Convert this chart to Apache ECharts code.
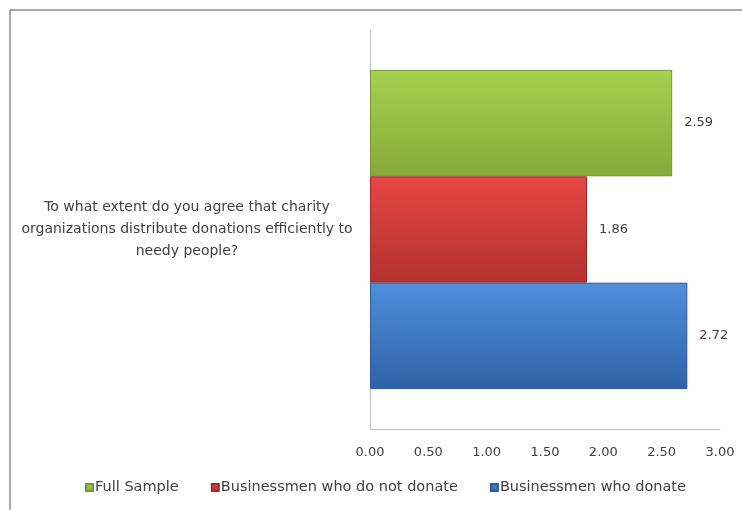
<!DOCTYPE html>
<html>
<head>
<meta charset="utf-8">
<script src="https://cdn.jsdelivr.net/npm/echarts@6/dist/echarts.min.js"></script>
<style>html,body{margin:0;padding:0;background:#fff;}#c{width:742px;height:510px;}</style>
</head>
<body>
<div id="c"></div>
<script>
const categories = ["To what extent do you agree that charity\norganizations distribute donations efficiently to\nneedy people?"];
const seriesNames = ["Full Sample", "Businessmen who do not donate", "Businessmen who donate"];
const fullSample = [2.59];
const notDonate = [1.86];
const donate = [2.72];
const xTicks = [0, 0.5, 1, 1.5, 2, 2.5, 3];

function grad(top, bottom) {
  return new echarts.graphic.LinearGradient(0, 0, 0, 1, [
    {offset: 0, color: top}, {offset: 1, color: bottom}
  ]);
}
const font = "'DejaVu Sans', sans-serif";
const labelCfg = {show: true, position: 'right', distance: 12, color: '#404040', fontSize: 13, fontFamily: font,
  formatter: p => p.value.toFixed(2)};

const chart = echarts.init(document.getElementById('c'));
chart.setOption({
  animation: false,
  backgroundColor: '#fff',
  graphic: [{type: 'rect', shape: {x: 10, y: 10, width: 800, height: 600},
    style: {fill: 'none', stroke: '#8c8c8c', lineWidth: 1.5}, silent: true}],
  grid: {left: 370, right: 22, top: 30, bottom: 81},
  legend: {
    data: seriesNames, bottom: 10, left: 80, itemWidth: 7, itemHeight: 7, itemGap: 32,
    icon: 'rect', textStyle: {color: '#404040', fontSize: 14.5, fontFamily: font, padding: [0, 0, 0, -3]}
  },
  xAxis: {
    type: 'value', min: xTicks[0], max: xTicks[xTicks.length - 1], interval: 0.5,
    axisLine: {show: true, lineStyle: {color: '#bfbfbf'}},
    axisTick: {show: false},
    splitLine: {show: false},
    axisLabel: {margin: 17, color: '#404040', fontSize: 13, fontFamily: font, formatter: v => v.toFixed(2)}
  },
  yAxis: {
    type: 'category', data: categories,
    axisLine: {show: true, lineStyle: {color: '#bfbfbf'}},
    axisTick: {show: false},
    axisLabel: {align: 'center', margin: 183, lineHeight: 22, color: '#404040', fontSize: 14, fontFamily: font}
  },
  series: [
    {name: seriesNames[0], type: 'bar', data: fullSample, barGap: '0%', barCategoryGap: '20%',
     itemStyle: {color: grad('#a6d14f', '#86aa3b'), borderColor: '#76963a', borderWidth: 1}, label: labelCfg},
    {name: seriesNames[1], type: 'bar', data: notDonate, barGap: '0%', barCategoryGap: '20%',
     itemStyle: {color: grad('#e64644', '#b2322f'), borderColor: '#9e2d2a', borderWidth: 1}, label: labelCfg},
    {name: seriesNames[2], type: 'bar', data: donate, barGap: '0%', barCategoryGap: '20%',
     itemStyle: {color: grad('#4f8fdc', '#2f62a6'), borderColor: '#2c5a96', borderWidth: 1}, label: labelCfg}
  ]
});
</script>
</body>
</html>
